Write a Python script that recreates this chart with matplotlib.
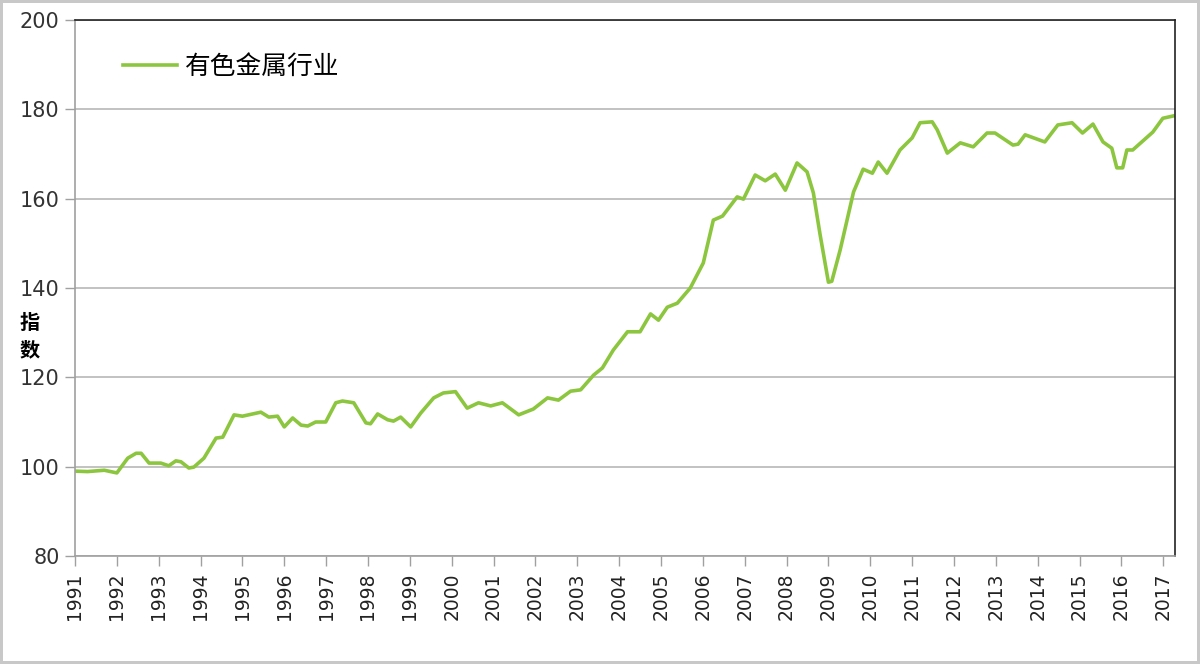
import numpy as np
import matplotlib
matplotlib.use('Agg')
import matplotlib.pyplot as plt

# decimal year / index values
years = [1991.00, 1991.30, 1991.70, 1992.00, 1992.26, 1992.46, 1992.58, 1992.77,
         1993.05, 1993.24, 1993.41, 1993.53, 1993.72, 1993.84, 1994.08, 1994.37,
         1994.53, 1994.80, 1995.00, 1995.44, 1995.63, 1995.84, 1996.00, 1996.20,
         1996.40, 1996.56, 1996.75, 1996.99, 1997.23, 1997.39, 1997.66, 1997.95,
         1998.06, 1998.23, 1998.47, 1998.61, 1998.78, 1999.02, 1999.26, 1999.57,
         1999.80, 2000.09, 2000.37, 2000.64, 2000.93, 2001.21, 2001.60, 2001.95,
         2002.29, 2002.55, 2002.84, 2003.08, 2003.39, 2003.60, 2003.86, 2004.20,
         2004.50, 2004.75, 2004.94, 2005.15, 2005.39, 2005.70, 2006.01, 2006.25,
         2006.47, 2006.82, 2006.97, 2007.25, 2007.49, 2007.73, 2007.97, 2008.25,
         2008.49, 2008.64, 2008.80, 2009.00, 2009.08, 2009.28, 2009.60, 2009.83,
         2010.05, 2010.19, 2010.40, 2010.71, 2011.00, 2011.19, 2011.48, 2011.60,
         2011.84, 2012.15, 2012.46, 2012.79, 2012.98, 2013.41, 2013.53, 2013.70,
         2014.17, 2014.48, 2014.82, 2015.07, 2015.32, 2015.56, 2015.77, 2015.89,
         2016.03, 2016.13, 2016.27, 2016.75, 2016.99, 2017.23]
index = [99.0, 98.9, 99.2, 98.6, 101.9, 103.0, 103.0, 100.8,
         100.8, 100.2, 101.3, 101.1, 99.7, 99.9, 101.9, 106.4,
         106.6, 111.6, 111.3, 112.2, 111.1, 111.3, 108.9, 110.9,
         109.3, 109.1, 110.0, 110.0, 114.3, 114.7, 114.3, 109.8,
         109.6, 111.8, 110.5, 110.2, 111.1, 108.9, 112.0, 115.4,
         116.5, 116.8, 113.1, 114.3, 113.6, 114.3, 111.6, 112.9,
         115.4, 114.9, 116.9, 117.2, 120.5, 122.1, 126.1, 130.2,
         130.2, 134.2, 132.8, 135.7, 136.6, 140.0, 145.6, 155.2,
         156.1, 160.4, 159.9, 165.3, 164.0, 165.5, 161.9, 168.0,
         166.0, 161.3, 152.0, 141.3, 141.5, 148.5, 161.5, 166.6,
         165.7, 168.2, 165.7, 170.9, 173.6, 177.0, 177.2, 175.4,
         170.2, 172.5, 171.6, 174.7, 174.7, 172.0, 172.2, 174.3,
         172.7, 176.5, 177.0, 174.7, 176.7, 172.7, 171.3, 166.9,
         166.9, 170.9, 170.9, 174.9, 178.0, 178.5]

tick_years = list(range(1991, 2018))
y_ticks = [80, 100, 120, 140, 160, 180, 200]
series_name = '有色金属行业'
cjk = ['Noto Sans CJK SC', 'DejaVu Sans']

fig = plt.figure(figsize=(12, 6.64), dpi=100)
fig.patch.set_edgecolor('#c8c8c8')
fig.patch.set_linewidth(3)
ax = fig.add_axes([75/1200, 1 - 556/664, 1100/1200, 536/664])

ax.plot(years, index, color='#8cc63f', lw=2.6, label=series_name)

ax.set_xlim(1991, 2017.28)
ax.set_ylim(80, 200)
ax.set_yticks(y_ticks)
ax.set_xticks(tick_years)
ax.set_xticklabels([str(y) for y in tick_years], rotation=90)
ax.tick_params(axis='y', length=7, width=1, color='#a0a0a0', labelsize=15,
               labelcolor='#333333', pad=4)
ax.tick_params(axis='x', length=7, width=1, color='#a0a0a0', labelsize=13.5,
               labelcolor='#222222', pad=5)
ax.grid(axis='y', color='#b8b8b8', lw=1.2)
ax.set_axisbelow(True)

for s in ['left', 'bottom']:
    ax.spines[s].set_color('#a0a0a0')
    ax.spines[s].set_linewidth(1.2)
for s in ['top', 'right']:
    ax.spines[s].set_color('#222222')
    ax.spines[s].set_linewidth(1.2)

leg = ax.legend(loc='center left', bbox_to_anchor=(0.0436, 0.912), frameon=False,
                borderaxespad=0, borderpad=0, handlelength=2.1, handletextpad=0.3,
                prop={'family': cjk, 'size': 18.5})

fig.text(30/1200, 1 - 336/664, '指\n数', ha='center', va='center', fontsize=14.5,
         fontweight='bold', linespacing=1.35, family=cjk)

fig.savefig('out.png', dpi=100, edgecolor=fig.get_edgecolor())
